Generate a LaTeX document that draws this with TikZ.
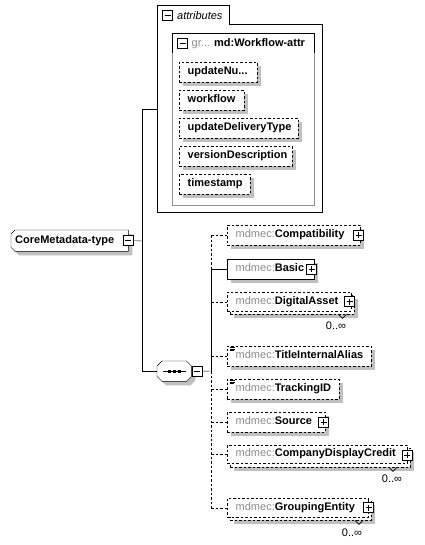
\documentclass[tikz,border=0pt]{standalone}
\usepackage{fontspec}
\setmainfont{Liberation Sans}
\usetikzlibrary{shadows,calc}
\definecolor{mdgray}{HTML}{8C8C8C}
\definecolor{shadowgray}{HTML}{C0C0C0}
\definecolor{boxgray}{HTML}{909090}
\pgfdeclarelayer{bg}
\pgfsetlayers{bg,main}
\newcommand\elname[2]{\makebox[#1pt][l]{\textcolor{mdgray}{mdmec:}\textbf{#2}}}
\newcommand\atname[2]{\makebox[#1pt][l]{\textbf{#2}}}
\begin{document}
\begin{tikzpicture}[x=1pt,y=-1pt,line width=1pt,
 font=\fontsize{11}{13}\selectfont,
 shad/.style={drop shadow={shadow xshift=4pt,shadow yshift=-4pt,fill=shadowgray,opacity=1}},
 dsh/.style={dash pattern=on 2.5pt off 2pt},
 elem/.style={draw,fill=white,anchor=north west,inner xsep=8.5pt,inner ysep=0pt,text height=8pt,text depth=2.5pt,minimum height=20pt},
 backbox/.style={draw,dsh,fill=white,shad,anchor=north west,inner sep=0pt,minimum height=19pt},
 pmbox/.style={draw,solid,fill=white,minimum size=10pt,inner sep=0pt,line width=0.8pt},
 plusbox/.style={pmbox,path picture={\draw[line width=0.8pt] ($(path picture bounding box.north)+(0,2)$) -- ($(path picture bounding box.south)+(0,-2)$); \draw[line width=0.8pt] ($(path picture bounding box.west)+(2,0)$) -- ($(path picture bounding box.east)+(-2,0)$);}},
 minusbox/.style={pmbox,path picture={\draw[line width=0.8pt] ($(path picture bounding box.west)+(2,0)$) -- ($(path picture bounding box.east)+(-2,0)$);}},
 mult/.style={inner sep=0pt},
 chev/.style={line width=0.7pt,solid}
]
\begin{pgfonlayer}{bg}
\fill[white] (0,0) rectangle (424,545);
\end{pgfonlayer}
\useasboundingbox (0,0) rectangle (424,545);

% attributes container
\draw (157,5) -- (229,5) -- (229,24) -- (322,24) -- (322,212) -- (157,212) -- cycle;
\node[minusbox] (attrminus) at (167.5,15) {};
\node[anchor=west,inner sep=0pt,font=\fontsize{11}{13}\selectfont\itshape] (attrlabel) at (177,15.5) {attributes};
\draw[boxgray] (172,53) -- (172,205) -- (314,205) -- (314,53);
\draw (172,53) -- (172,33) -- (314,33) -- (314,53);
\node[minusbox] (grpminus) at (182.5,43.5) {};
\node[anchor=west,inner sep=0pt] (grplabel) at (191.5,43.5) {\textcolor{mdgray}{gr...} \textbf{md:Workflow-attr}};

\node[elem,dsh,shad] (a1) at (179,62) {\atname{61}{updateNu...}};
\node[elem,dsh,shad] (a2) at (179,90) {\atname{48}{workflow}};
\node[elem,dsh,shad] (a3) at (179,118) {\atname{102}{updateDeliveryType}};
\node[elem,dsh,shad] (a4) at (179,146) {\atname{96}{versionDescription}};
\node[elem,dsh,shad] (a5) at (179,174) {\atname{54}{timestamp}};

% root
\node (core) [anchor=north west,minimum width=117pt,minimum height=21pt,inner xsep=4pt,inner ysep=0pt,text height=8pt,text depth=2.5pt] at (11,230) {\makebox[109pt][l]{\textbf{CoreMetadata-type}}};
\begin{pgfonlayer}{bg}
\draw[fill=white,shad] ($(core.north west)+(4,0)$) -- (core.north east) -- (core.south east) -- ($(core.south west)+(4,0)$) -- ($(core.south west)+(0,-4)$) -- ($(core.north west)+(0,4)$) -- cycle;
\end{pgfonlayer}
\node[minusbox] (coreminus) at (core.east) {};

% sequence
\node (seq) [anchor=north west,minimum width=34pt,minimum height=20pt,inner sep=0pt] at (157,361) {};
\begin{pgfonlayer}{bg}
\draw[fill=white,shad] ($(seq.north west)+(5,0)$) -- ($(seq.north east)+(-5,0)$) -- ($(seq.north east)+(0,5)$) -- ($(seq.south east)+(0,-5)$) -- ($(seq.south east)+(-5,0)$) -- ($(seq.south west)+(5,0)$) -- ($(seq.south west)+(0,-5)$) -- ($(seq.north west)+(0,5)$) -- cycle;
\end{pgfonlayer}
\draw ($(seq.center)+(-11,0)$) -- ($(seq.center)+(12,0)$);
\foreach \dx in {-5,0,5} \fill ($(seq.center)+(\dx-1.6,-1.6)$) rectangle ++(3.2,3.2);
\node[minusbox,anchor=west] (seqminus) at ($(seq.east)+(0.5,0)$) {};

% trunk
\coordinate (attrW) at (157,109);
\coordinate (trunk) at (142,241);
\draw (coreminus.east) -- (trunk);
\draw (attrW) -- (attrW -| trunk) -- (trunk |- seq.west) -- (seq.west);

% children
\node[elem,dsh,shad] (cmp) at (227,225) {\elname{116}{Compatibility}};
\node[plusbox] (cmpplus) at (358.5,235) {};
\node[elem,shad] (basic) at (227,259) {\elname{70}{Basic}};
\node[plusbox] (basicplus) at (311.5,269) {};
\node[backbox,minimum width=124pt] (digB) at (230,295) {};
\node[elem,dsh,minimum height=19pt] (dig) at (227,292) {\elname{107}{DigitalAsset}};
\node[plusbox] (digplus) at (349.5,301.5) {};
\draw[chev] ($(digB.south west)+(108.5,0)$) -- ++(4,4) -- ++(4,-4);
\node[mult] (digmult) at (336,326) {0..∞};
\node[elem,dsh,shad] (title) at (227,346) {\elname{127}{TitleInternalAlias}};
\foreach \dy/\len in {1.5/5,3/5,4.5/4} \draw[line width=0.6pt,solid] ($(title.north west)+(2.5,\dy)$) -- ++(\len,0);
\node[elem,dsh,shad] (track) at (227,379) {\elname{95}{TrackingID}};
\foreach \dy/\len in {1.5/5,3/5,4.5/4} \draw[line width=0.6pt,solid] ($(track.north west)+(2.5,\dy)$) -- ++(\len,0);
\node[elem,dsh,shad] (source) at (227,412) {\elname{81}{Source}};
\node[plusbox] (sourceplus) at (323.5,422) {};
\node[backbox,minimum width=180pt] (cdcB) at (230,448) {};
\node[elem,dsh,minimum height=18pt] (cdc) at (227,445) {\elname{163}{CompanyDisplayCredit}};
\node[plusbox] (cdcplus) at (407,455) {};
\draw[chev] ($(cdcB.south west)+(159,0)$) -- ++(4,4) -- ++(4,-4);
\node[mult] (cdcmult) at (392,479) {0..∞};
\node[backbox,minimum width=141pt] (grpB) at (230,501) {};
\node[elem,dsh,minimum height=19pt] (grp) at (227,498) {\elname{124}{GroupingEntity}};
\node[plusbox] (grpplus) at (368.5,507.5) {};
\draw[chev] ($(grpB.south west)+(125,0)$) -- ++(4,4) -- ++(4,-4);
\node[mult] (grpmult) at (352,533) {0..∞};

% connectors
\coordinate (bus) at (211,371);
\draw (seqminus.east) -- (bus);
\draw[dsh] (bus |- cmp.west) -- (cmp.west);
\draw (bus |- basic.west) -- (basic.west);
\draw[dsh] (bus |- dig.west) -- (dig.west);
\draw[dsh] (bus |- title.west) -- (title.west);
\draw[dsh] (bus |- track.west) -- (track.west);
\draw[dsh] (bus |- source.west) -- (source.west);
\draw[dsh] (bus |- cdc.west) -- (cdc.west);
\draw[dsh] (bus |- grp.west) -- (grp.west);
\draw[dsh] (bus |- cmp.west) -- (bus |- basic.west);
\draw (bus |- basic.west) -- (bus);
\draw[dsh] (bus) -- (bus |- grp.west);
\end{tikzpicture}
\end{document}
